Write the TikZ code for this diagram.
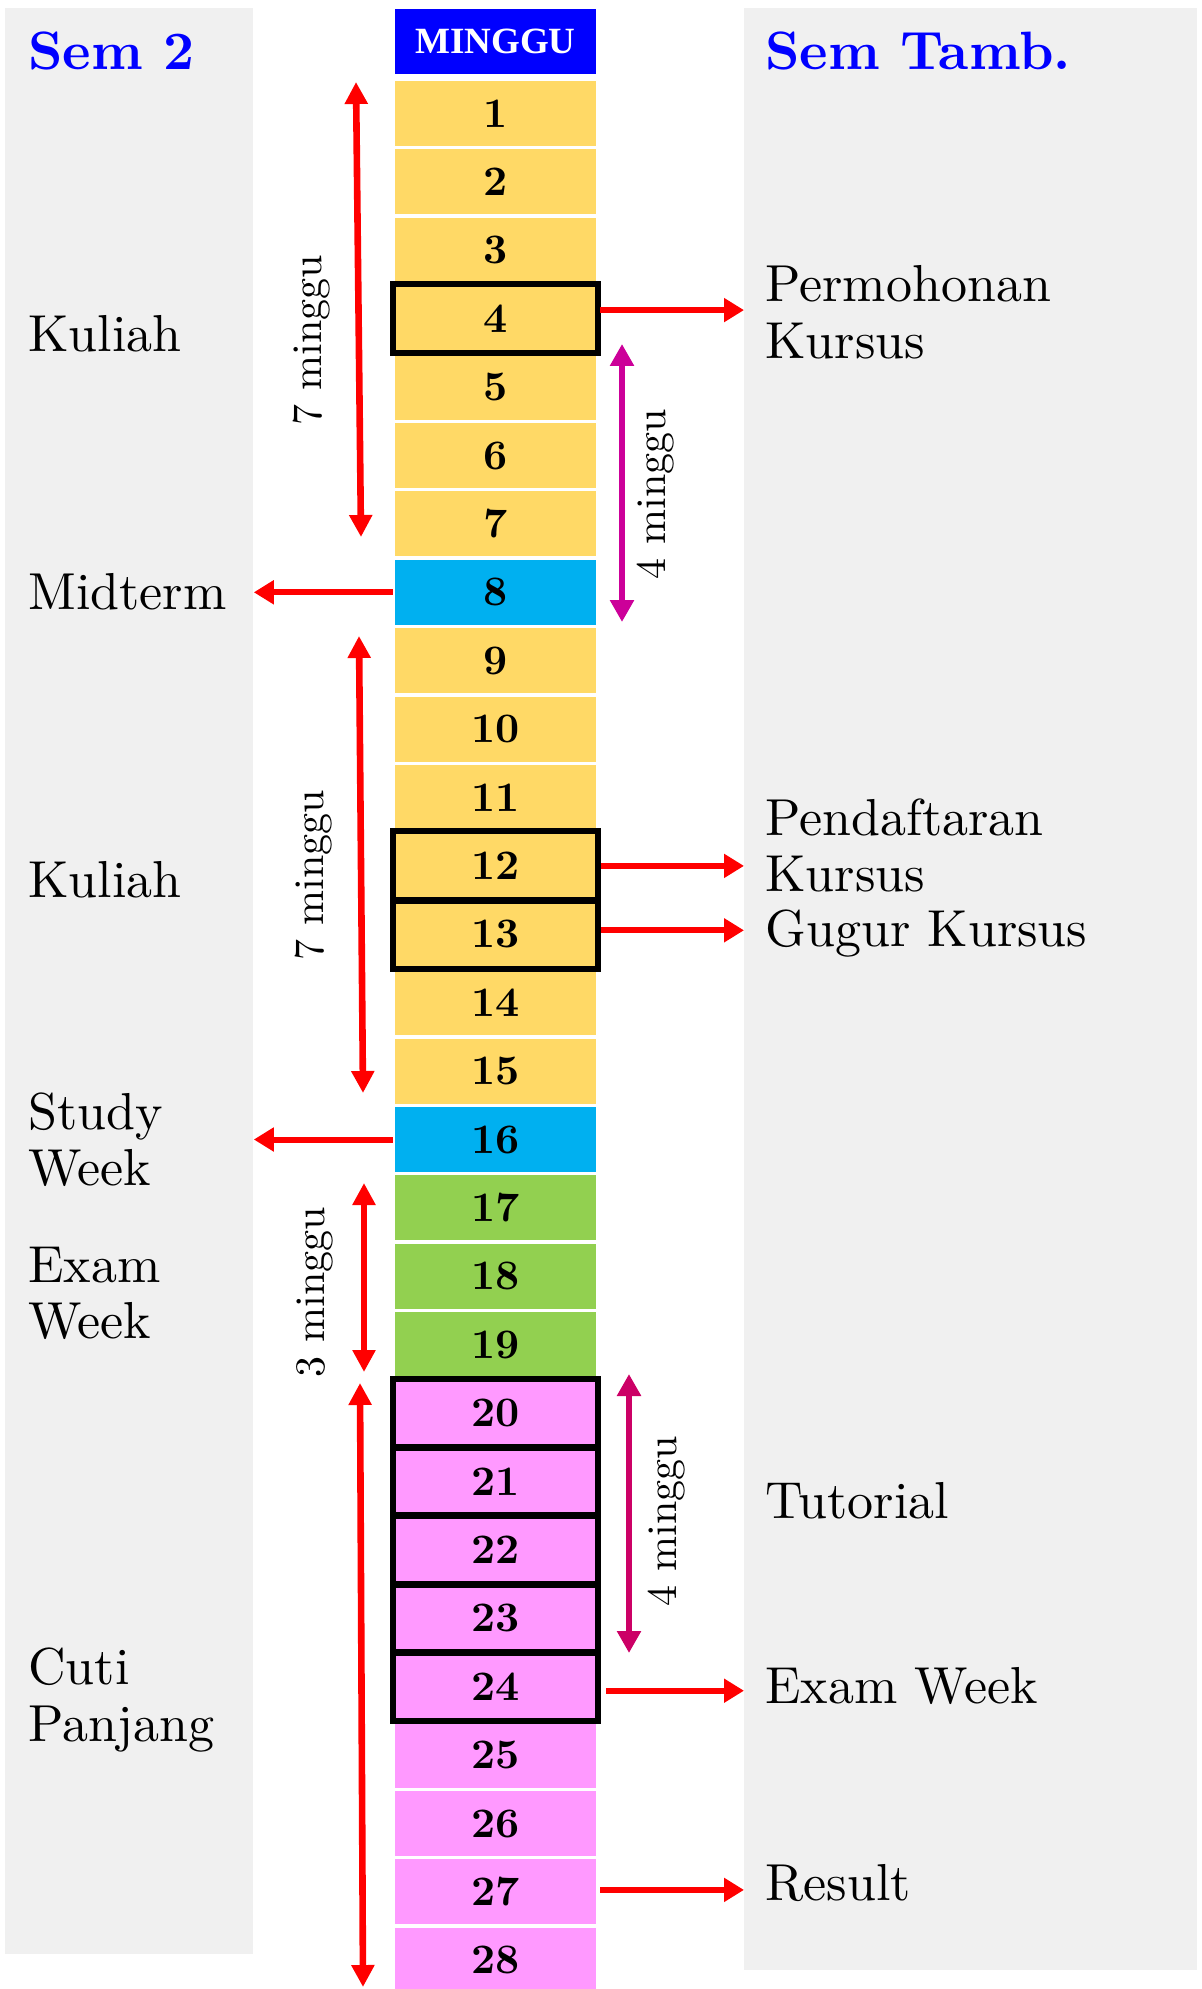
\documentclass[tikz,border=0pt]{standalone}
\usepackage{fontspec}
\setmainfont{lmroman10-regular.otf}[BoldFont=lmroman10-bold.otf]
\newfontfamily\tnr{Liberation Serif}
\usetikzlibrary{arrows.meta,calc}
\definecolor{yel}{HTML}{FFD966}
\definecolor{sky}{HTML}{00B0F0}
\definecolor{grn}{HTML}{92D050}
\definecolor{pnk}{HTML}{FF99FF}
\definecolor{pan}{HTML}{F0F0F0}
\definecolor{magA}{HTML}{CC0099}
\definecolor{magB}{HTML}{CC0066}
\begin{document}
\begin{tikzpicture}[x=0.5pt,y=-0.5pt,
  cell/.style={minimum width=100.5pt,minimum height=32.5pt,inner sep=0pt,font=\fontsize{21}{24}\selectfont\bfseries},
  bx/.style={draw=black,line width=3pt},
  ra/.style={draw=red,line width=3pt,-{Triangle[length=10pt,width=11.5pt]}},
  rda/.style={draw=red,line width=3.3pt,{Triangle[length=11pt,width=11pt]}-{Triangle[length=11pt,width=11pt]}},
  mda/.style={line width=3pt,{Triangle[length=11pt,width=11.5pt]}-{Triangle[length=11pt,width=11.5pt]}},
  lbl/.style={anchor=base west,inner sep=0pt,font=\fontsize{26}{30}\selectfont},
  ttl/.style={anchor=base west,inner sep=0pt,text=blue,font=\fontsize{27}{30}\selectfont\bfseries},
  rot/.style={rotate=90,inner sep=0pt,font=\fontsize{21}{24}\selectfont}
]
\useasboundingbox (0,0) rectangle (1201,1989);
% panels
\node[fill=pan,inner sep=0pt,minimum width=124pt,minimum height=973pt,anchor=north west] (lp) at (5,8) {};
\node[fill=pan,inner sep=0pt,minimum width=226.5pt,minimum height=981pt,anchor=north west] (rp) at (744,8) {};
% header
\node[fill=blue,minimum width=100.5pt,minimum height=32.5pt,inner sep=0pt,text=white,font=\tnr\bfseries\fontsize{18.5}{20}\selectfont] (hd) at (495.5,41.5) {MINGGU};
% cells
\foreach \n in {1,...,7,9,10,11,12,13,14,15}
  \node[cell,fill=yel] (c\n) at (495.5,{113.5+(\n-1)*68.4}) {\n};
\foreach \n in {8,16}
  \node[cell,fill=sky] (c\n) at (495.5,{113.5+(\n-1)*68.4}) {\n};
\foreach \n in {17,18,19}
  \node[cell,fill=grn] (c\n) at (495.5,{113.5+(\n-1)*68.4}) {\n};
\foreach \n in {20,...,28}
  \node[cell,fill=pnk] (c\n) at (495.5,{113.5+(\n-1)*68.4}) {\n};
% thick outlines
\foreach \n in {4,12,13,20,21,22,23,24}
  \draw[bx] ($(c\n.north west)+(-2,-1.7)$) rectangle ($(c\n.south east)+(2,1.7)$);
% titles and labels
\node[ttl] (t1) at (28,70) {Sem 2};
\node[ttl] (t2) at (765,70) {Sem Tamb.};
\node[lbl] (l1) at (28,352) {Kuliah};
\node[lbl] (l2) at (28,609) {Midterm};
\node[lbl] (l3) at (28,897) {Kuliah};
\node[lbl] (l4) at (28,1129) {Study};
\node[lbl] (l5) at (28,1185) {Week};
\node[lbl] (l6) at (28,1282) {Exam};
\node[lbl] (l7) at (28,1338) {Week};
\node[lbl] (l8) at (28,1684) {Cuti};
\node[lbl] (l9) at (28,1741) {Panjang};
\node[lbl] (r1) at (765,302) {Permohonan};
\node[lbl] (r2) at (765,359) {Kursus};
\node[lbl] (r3) at (765,835) {Pendaftaran};
\node[lbl] (r4) at (765,891) {Kursus};
\node[lbl] (r5) at (765,946) {Gugur Kursus};
\node[lbl] (r6) at (765,1518) {Tutorial};
\node[lbl] (r7) at (765,1703) {Exam Week};
\node[lbl] (r8) at (765,1900) {Result};
% rotated labels
\node[rot] (m1) at (312,340) {7 minggu};
\node[rot] (m2) at (656,494) {4 minggu};
\node[rot] (m3) at (314,875) {7 minggu};
\node[rot] (m4) at (315,1292) {3 minggu};
\node[rot] (m5) at (667,1521) {4 minggu};
% horizontal arrows
\coordinate (p4) at ([xshift=2pt,yshift=4.3pt]c4.east);
\draw[ra] (p4) -- (p4 -| rp.west);
\coordinate (p8) at ([xshift=-1pt]c8.west);
\draw[ra] (p8) -- (p8 -| lp.east);
\coordinate (p12) at ([xshift=2.5pt]c12.east);
\draw[ra] (p12) -- (p12 -| rp.west);
\coordinate (p13) at ([xshift=2.5pt,yshift=2pt]c13.east);
\draw[ra] (p13) -- (p13 -| rp.west);
\coordinate (p16) at ([xshift=-1pt]c16.west);
\draw[ra] (p16) -- (p16 -| lp.east);
\coordinate (p24) at ([xshift=5pt,yshift=-2pt]c24.east);
\draw[ra] (p24) -- (p24 -| rp.west);
\coordinate (p27) at ([xshift=2pt,yshift=1pt]c27.east);
\draw[ra] (p27) -- (p27 -| rp.west);
% vertical double arrows
\coordinate (a1t) at (356,82);   \coordinate (a1b) at (361,537);
\coordinate (a2t) at (359,636);  \coordinate (a2b) at (363,1093);
\coordinate (a3t) at (364,1183); \coordinate (a3b) at (364,1372);
\coordinate (a4t) at (360,1383); \coordinate (a4b) at (363,1987);
\draw[rda] (a1t) -- (a1b);
\draw[rda] (a2t) -- (a2b);
\draw[rda] (a3t) -- (a3b);
\draw[rda] (a4t) -- (a4b);
\coordinate (b1t) at (622,344);  \coordinate (b1b) at (622,622);
\coordinate (b2t) at (629,1374); \coordinate (b2b) at (629,1653);
\draw[mda,draw=magA] (b1t) -- (b1b);
\draw[mda,draw=magB] (b2t) -- (b2b);
\end{tikzpicture}
\end{document}
